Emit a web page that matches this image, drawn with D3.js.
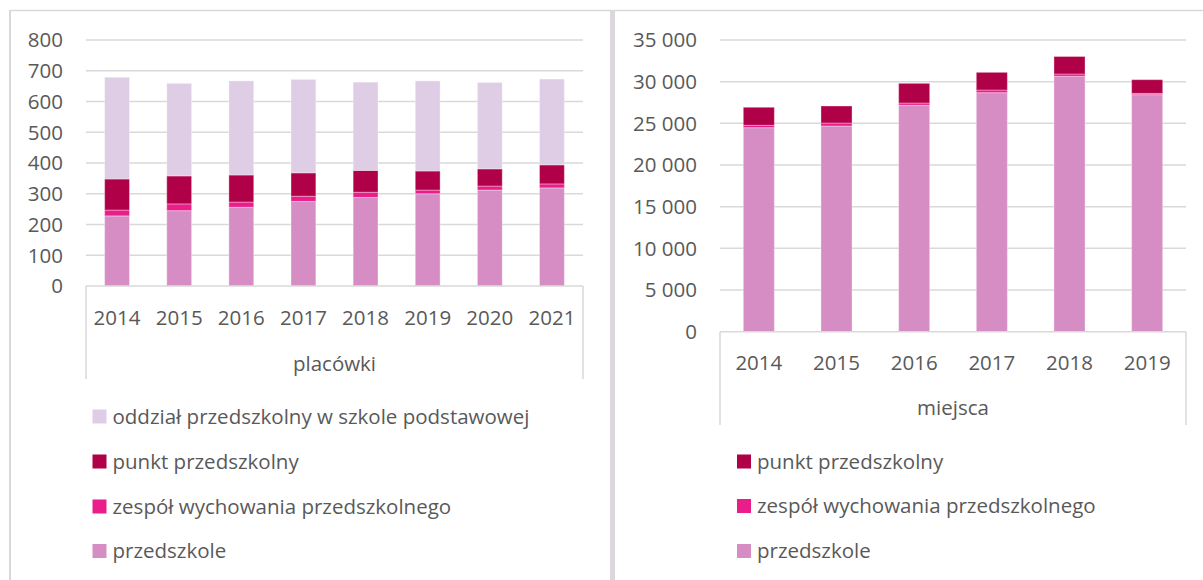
<!DOCTYPE html>
<html>
<head>
<meta charset="utf-8">
<script src="https://cdn.jsdelivr.net/npm/d3@7"></script>
<style>
  html, body { margin: 0; padding: 0; background: #fff; }
  svg { display: block; }
  text { font-family: "Open Sans", sans-serif; fill: #595959; }
</style>
</head>
<body>
<svg id="chart" width="1203" height="580"></svg>
<script>
// ---- data (placówki) ----
const years1 = ["2014", "2015", "2016", "2017", "2018", "2019", "2020", "2021"];
const przedszkole1 = [228, 245, 256, 275, 288, 300, 312, 319];
const zespol1 = [19, 22, 17, 17, 17, 12, 13, 13];
const punkt1 = [101, 91, 88, 76, 71, 62, 56, 62];
const oddzial1 = [331, 301, 306, 304, 287, 293, 281, 279];
const ticks1 = [0, 100, 200, 300, 400, 500, 600, 700, 800];

// ---- data (miejsca) ----
const years2 = ["2014", "2015", "2016", "2017", "2018", "2019"];
const przedszkole2 = [24480, 24680, 27170, 28680, 30640, 28440];
const zespol2 = [290, 360, 270, 320, 280, 160];
const punkt2 = [2160, 2040, 2360, 2120, 2100, 1640];
const ticks2 = [0, 5000, 10000, 15000, 20000, 25000, 30000, 35000];

const seriesNames = {
  oddzial: "oddział przedszkolny w szkole podstawowej",
  punkt: "punkt przedszkolny",
  zespol: "zespół wychowania przedszkolnego",
  przedszkole: "przedszkole"
};
const colors = {
  oddzial: "#dfcde5",
  punkt: "#b00048",
  zespol: "#e91e8a",
  przedszkole: "#d68dc4"
};

const svg = d3.select("#chart");
const FS = 20.5;
const gridColor = "#d9d9d9";

// frames
svg.append("line").attr("x1", 10).attr("x2", 611).attr("y1", 10.5).attr("y2", 10.5)
  .attr("stroke", gridColor).attr("stroke-width", 1.5);
svg.append("line").attr("x1", 614).attr("x2", 1203).attr("y1", 10.5).attr("y2", 10.5)
  .attr("stroke", gridColor).attr("stroke-width", 1.5);
svg.append("rect").attr("x", 9).attr("y", 10).attr("width", 2).attr("height", 570).attr("fill", gridColor);
svg.append("rect").attr("x", 610).attr("y", 10).attr("width", 5).attr("height", 570).attr("fill", "#dcd6df");

function drawChart(cfg) {
  const g = svg.append("g");
  const x = d3.scaleBand().domain(cfg.years).range([cfg.x0, cfg.x1]).paddingInner(0.6).paddingOuter(0.3);
  const y = d3.scaleLinear().domain([0, cfg.ticks[cfg.ticks.length - 1]]).range([cfg.y0, cfg.yTop]);

  // gridlines
  g.selectAll("line.grid").data(cfg.ticks.slice(1)).join("line")
    .attr("x1", cfg.x0).attr("x2", cfg.x1)
    .attr("y1", d => y(d)).attr("y2", d => y(d))
    .attr("stroke", gridColor).attr("stroke-width", 1.5);

  // y labels
  const fmt = cfg.fmt;
  g.selectAll("text.ytick").data(cfg.ticks).join("text")
    .attr("x", cfg.yLabelX).attr("y", d => y(d)).attr("dy", "0.36em")
    .attr("text-anchor", "end").attr("font-size", FS)
    .text(d => fmt(d));

  // stacked data
  const rows = cfg.years.map((yr, i) => {
    const r = { year: yr };
    cfg.keys.forEach(k => r[k] = cfg.values[k][i]);
    return r;
  });
  const stack = d3.stack().keys(cfg.keys)(rows);
  g.selectAll("g.series").data(stack).join("g")
    .attr("fill", d => colors[d.key])
    .selectAll("rect").data(d => d).join("rect")
    .attr("x", d => x(d.data.year))
    .attr("width", x.bandwidth())
    .attr("y", d => y(d[1]))
    .attr("height", d => y(d[0]) - y(d[1]))
    .attr("stroke", "rgba(255,255,255,0.35)").attr("stroke-width", 1);

  // category axis
  g.append("line").attr("x1", cfg.x0).attr("x2", cfg.x1).attr("y1", cfg.y0).attr("y2", cfg.y0)
    .attr("stroke", gridColor).attr("stroke-width", 1.5);
  [cfg.x0, cfg.x1].forEach(xx => {
    g.append("line").attr("x1", xx).attr("x2", xx).attr("y1", cfg.y0).attr("y2", cfg.axisBottom)
      .attr("stroke", gridColor).attr("stroke-width", 1.5);
  });
  g.selectAll("text.xtick").data(cfg.years).join("text")
    .attr("x", d => x(d) + x.bandwidth() / 2).attr("y", cfg.catY).attr("dy", "0.36em")
    .attr("text-anchor", "middle").attr("font-size", FS)
    .text(d => d);
  g.append("text").attr("x", (cfg.x0 + cfg.x1) / 2).attr("y", cfg.titleY).attr("dy", "0.36em")
    .attr("text-anchor", "middle").attr("font-size", FS).text(cfg.title);

  // legend
  const lg = g.append("g");
  cfg.legendKeys.forEach((k, i) => {
    const cy = cfg.legendY[i];
    lg.append("rect").attr("x", cfg.legendX).attr("y", cy - 7).attr("width", 14).attr("height", 14)
      .attr("fill", colors[k]);
    lg.append("text").attr("x", cfg.legendX + 20).attr("y", cy).attr("dy", "0.36em")
      .attr("font-size", FS).text(seriesNames[k]);
  });
}

const spaceFmt = d => d3.format(",")(d).replace(/,/g, " ");

drawChart({
  years: years1, ticks: ticks1,
  keys: ["przedszkole", "zespol", "punkt", "oddzial"],
  values: { przedszkole: przedszkole1, zespol: zespol1, punkt: punkt1, oddzial: oddzial1 },
  x0: 86, x1: 583, y0: 286, yTop: 40, yLabelX: 63,
  catY: 317.5, titleY: 363.5, axisBottom: 379, title: "placówki",
  fmt: d => String(d),
  legendKeys: ["oddzial", "punkt", "zespol", "przedszkole"],
  legendX: 92.5, legendY: [416.5, 461.5, 506.5, 551]
});

drawChart({
  years: years2, ticks: ticks2,
  keys: ["przedszkole", "zespol", "punkt"],
  values: { przedszkole: przedszkole2, zespol: zespol2, punkt: punkt2 },
  x0: 720, x1: 1186, y0: 331.7, yTop: 40, yLabelX: 697,
  catY: 362.7, titleY: 408, axisBottom: 425, title: "miejsca",
  fmt: spaceFmt,
  legendKeys: ["punkt", "zespol", "przedszkole"],
  legendX: 737, legendY: [461.5, 506, 551]
});
</script>
</body>
</html>
